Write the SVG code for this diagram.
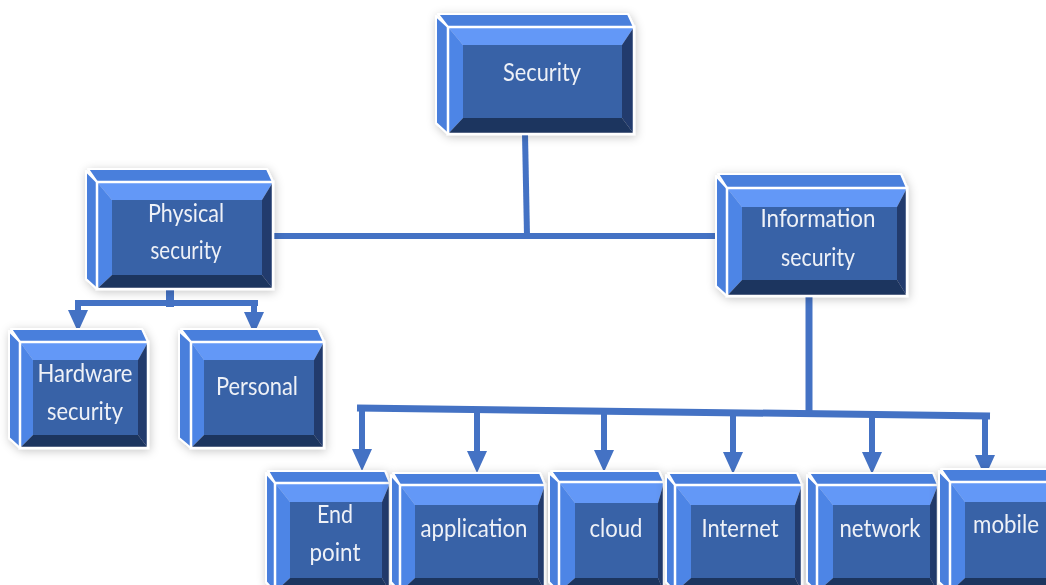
<svg xmlns="http://www.w3.org/2000/svg" width="1046" height="585" viewBox="0 0 1046 585">
<defs>
<style>
.slab{fill:#4a7fdc;stroke:#ffffff;stroke-width:2;stroke-linejoin:round}
.bt{fill:#6398f7}
.bl{fill:#4d85e6}
.br{fill:#213b6d}
.bb{fill:#1f355f}
.face{fill:#3962a7}
.edge{fill:none;stroke:#ffffff;stroke-width:2.5}
.lbl{font-family:Lato,"Open Sans",sans-serif;font-size:25px;fill:#eef1f7;text-anchor:middle}
.con{fill:none;stroke:#4472c4;stroke-width:6}
</style>
<filter id="sh" x="-20%" y="-20%" width="140%" height="140%">
<feGaussianBlur in="SourceAlpha" stdDeviation="5"/>
<feOffset dx="1" dy="2" result="b"/>
<feFlood flood-color="#000" flood-opacity="0.22"/>
<feComposite in2="b" operator="in"/>
<feMerge><feMergeNode/><feMergeNode in="SourceGraphic"/></feMerge>
</filter>
<marker id="ah" viewBox="0 0 22 20" refX="0" refY="10" markerWidth="22" markerHeight="20" markerUnits="userSpaceOnUse" orient="auto">
<path d="M0,0 L22,10 L0,20 z" fill="#4472c4"/>
</marker>
</defs>
<rect width="1046" height="585" fill="#ffffff"/>

<g id="connectors">
<path class="con" d="M525,134 L527,236"/>
<path class="con" d="M273,236 L716,236"/>
<path class="con" style="stroke-width:8" d="M170,285 V307"/>
<path class="con" d="M75,303 H258"/>
<path class="con" d="M78,302 V310" marker-end="url(#ah)"/>
<path class="con" d="M254,302 V312" marker-end="url(#ah)"/>
<path class="con" style="stroke-width:7" d="M809,290 V416"/>
<path class="con" style="stroke-width:7" d="M357,408 L990,416"/>
<path class="con" d="M362,408 V449" marker-end="url(#ah)"/>
<path class="con" d="M477,409 V451" marker-end="url(#ah)"/>
<path class="con" d="M604,410 V450" marker-end="url(#ah)"/>
<path class="con" d="M733,411 V452" marker-end="url(#ah)"/>
<path class="con" d="M872,413 V452" marker-end="url(#ah)"/>
<path class="con" d="M985,415 V455" marker-end="url(#ah)"/>
</g>

<g id="security" filter="url(#sh)">
<polygon class="slab" points="438,14 628,14 634,27 448,27"/>
<polygon class="slab" points="436,16 448,27 448,134 436,123"/>
<polygon class="bt" points="448,27 634,27 622,45 463,45"/>
<polygon class="bl" points="448,27 463,45 463,118 448,134"/>
<polygon class="br" points="634,27 634,134 622,118 622,45"/>
<polygon class="bb" points="448,134 463,118 622,118 634,134"/>
<rect class="face" x="463" y="45" width="159" height="73"/>
<rect class="edge" x="448" y="27" width="186" height="107"/>
<text class="lbl" x="542" y="81" textLength="78" lengthAdjust="spacingAndGlyphs">Security</text>
</g>

<g id="physical" filter="url(#sh)">
<polygon class="slab" points="88,169 267,169 273,182 97,182"/>
<polygon class="slab" points="86,171 97,182 97,289 86,279"/>
<polygon class="bt" points="97,182 273,182 262,200 112,200"/>
<polygon class="bl" points="97,182 112,200 112,275 97,289"/>
<polygon class="br" points="273,182 273,289 262,275 262,200"/>
<polygon class="bb" points="97,289 112,275 262,275 273,289"/>
<rect class="face" x="112" y="200" width="150" height="75"/>
<rect class="edge" x="97" y="182" width="176" height="107"/>
<text class="lbl" x="186" y="222" textLength="76" lengthAdjust="spacingAndGlyphs">Physical</text>
<text class="lbl" x="186" y="259" textLength="71" lengthAdjust="spacingAndGlyphs">security</text>
</g>

<g id="information" filter="url(#sh)">
<polygon class="slab" points="718,174 901,174 907,188 727,188"/>
<polygon class="slab" points="716,176 727,188 727,296 716,286"/>
<polygon class="bt" points="727,188 907,188 897,207 742,207"/>
<polygon class="bl" points="727,188 742,207 742,280 727,296"/>
<polygon class="br" points="907,188 907,296 897,280 897,207"/>
<polygon class="bb" points="727,296 742,280 897,280 907,296"/>
<rect class="face" x="742" y="207" width="155" height="73"/>
<rect class="edge" x="727" y="188" width="180" height="108"/>
<text class="lbl" x="818" y="227" textLength="115" lengthAdjust="spacingAndGlyphs">Information</text>
<text class="lbl" x="818" y="266" textLength="74" lengthAdjust="spacingAndGlyphs">security</text>
</g>

<g id="hardware" filter="url(#sh)">
<polygon class="slab" points="11,329 142,329 148,342 20,342"/>
<polygon class="slab" points="9,331 20,342 20,448 9,438"/>
<polygon class="bt" points="20,342 148,342 138,360 33,360"/>
<polygon class="bl" points="20,342 33,360 33,435 20,448"/>
<polygon class="br" points="148,342 148,448 138,435 138,360"/>
<polygon class="bb" points="20,448 33,435 138,435 148,448"/>
<rect class="face" x="33" y="360" width="105" height="75"/>
<rect class="edge" x="20" y="342" width="128" height="106"/>
<text class="lbl" x="85" y="382" textLength="95" lengthAdjust="spacingAndGlyphs">Hardware</text>
<text class="lbl" x="85" y="420" textLength="76" lengthAdjust="spacingAndGlyphs">security</text>
</g>

<g id="personal" filter="url(#sh)">
<polygon class="slab" points="181,329 318,329 324,342 191,342"/>
<polygon class="slab" points="179,331 191,342 191,448 179,438"/>
<polygon class="bt" points="191,342 324,342 314,360 204,360"/>
<polygon class="bl" points="191,342 204,360 204,435 191,448"/>
<polygon class="br" points="324,342 324,448 314,435 314,360"/>
<polygon class="bb" points="191,448 204,435 314,435 324,448"/>
<rect class="face" x="204" y="360" width="110" height="75"/>
<rect class="edge" x="191" y="342" width="133" height="106"/>
<text class="lbl" x="257" y="395" textLength="82" lengthAdjust="spacingAndGlyphs">Personal</text>
</g>

<g id="endpoint" filter="url(#sh)">
<polygon class="slab" points="268,471 385,471 390,483 275,483"/>
<polygon class="slab" points="266,473 275,483 275,592 266,582"/>
<polygon class="bt" points="275,483 390,483 382,502 290,502"/>
<polygon class="bl" points="275,483 290,502 290,578 275,592"/>
<polygon class="br" points="390,483 390,592 382,578 382,502"/>
<polygon class="bb" points="275,592 290,578 382,578 390,592"/>
<rect class="face" x="290" y="502" width="92" height="76"/>
<rect class="edge" x="275" y="483" width="115" height="109"/>
<text class="lbl" x="335" y="523" textLength="36" lengthAdjust="spacingAndGlyphs">End</text>
<text class="lbl" x="335" y="561" textLength="51" lengthAdjust="spacingAndGlyphs">point</text>
</g>

<g id="application" filter="url(#sh)">
<polygon class="slab" points="393,473 540,473 545,485 400,485"/>
<polygon class="slab" points="391,475 400,485 400,592 391,582"/>
<polygon class="bt" points="400,485 545,485 538,505 415,505"/>
<polygon class="bl" points="400,485 415,505 415,578 400,592"/>
<polygon class="br" points="545,485 545,592 538,578 538,505"/>
<polygon class="bb" points="400,592 415,578 538,578 545,592"/>
<rect class="face" x="415" y="505" width="123" height="73"/>
<rect class="edge" x="400" y="485" width="145" height="107"/>
<text class="lbl" x="474" y="537" textLength="107" lengthAdjust="spacingAndGlyphs">application</text>
</g>

<g id="cloud" filter="url(#sh)">
<polygon class="slab" points="551,471 659,471 664,482 559,482"/>
<polygon class="slab" points="549,473 559,482 559,592 549,582"/>
<polygon class="bt" points="559,482 664,482 658,503 575,503"/>
<polygon class="bl" points="559,482 575,503 575,578 559,592"/>
<polygon class="br" points="664,482 664,592 658,578 658,503"/>
<polygon class="bb" points="559,592 575,578 658,578 664,592"/>
<rect class="face" x="575" y="503" width="83" height="75"/>
<rect class="edge" x="559" y="482" width="105" height="110"/>
<text class="lbl" x="616" y="537" textLength="53" lengthAdjust="spacingAndGlyphs">cloud</text>
</g>

<g id="internet" filter="url(#sh)">
<polygon class="slab" points="668,473 797,473 802,485 675,485"/>
<polygon class="slab" points="666,475 675,485 675,592 666,582"/>
<polygon class="bt" points="675,485 802,485 795,505 691,505"/>
<polygon class="bl" points="675,485 691,505 691,578 675,592"/>
<polygon class="br" points="802,485 802,592 795,578 795,505"/>
<polygon class="bb" points="675,592 691,578 795,578 802,592"/>
<rect class="face" x="691" y="505" width="104" height="73"/>
<rect class="edge" x="675" y="485" width="127" height="107"/>
<text class="lbl" x="740" y="537" textLength="77" lengthAdjust="spacingAndGlyphs">Internet</text>
</g>

<g id="network" filter="url(#sh)">
<polygon class="slab" points="809,473 933,473 938,485 817,485"/>
<polygon class="slab" points="807,475 817,485 817,592 807,582"/>
<polygon class="bt" points="817,485 938,485 930,505 833,505"/>
<polygon class="bl" points="817,485 833,505 833,578 817,592"/>
<polygon class="br" points="938,485 938,592 930,578 930,505"/>
<polygon class="bb" points="817,592 833,578 930,578 938,592"/>
<rect class="face" x="833" y="505" width="97" height="73"/>
<rect class="edge" x="817" y="485" width="121" height="107"/>
<text class="lbl" x="880" y="537" textLength="81" lengthAdjust="spacingAndGlyphs">network</text>
</g>

<g id="mobile" filter="url(#sh)">
<polygon class="slab" points="941,469 1055,469 1060,482 950,482"/>
<polygon class="slab" points="939,471 950,482 950,592 939,582"/>
<polygon class="bt" points="950,482 1060,482 1052,502 965,502"/>
<polygon class="bl" points="950,482 965,502 965,578 950,592"/>
<polygon class="br" points="1060,482 1060,592 1052,578 1052,502"/>
<polygon class="bb" points="950,592 965,578 1052,578 1060,592"/>
<rect class="face" x="965" y="502" width="87" height="76"/>
<rect class="edge" x="950" y="482" width="110" height="110"/>
<text class="lbl" x="1006" y="533" textLength="66" lengthAdjust="spacingAndGlyphs">mobile</text>
</g>
</svg>
